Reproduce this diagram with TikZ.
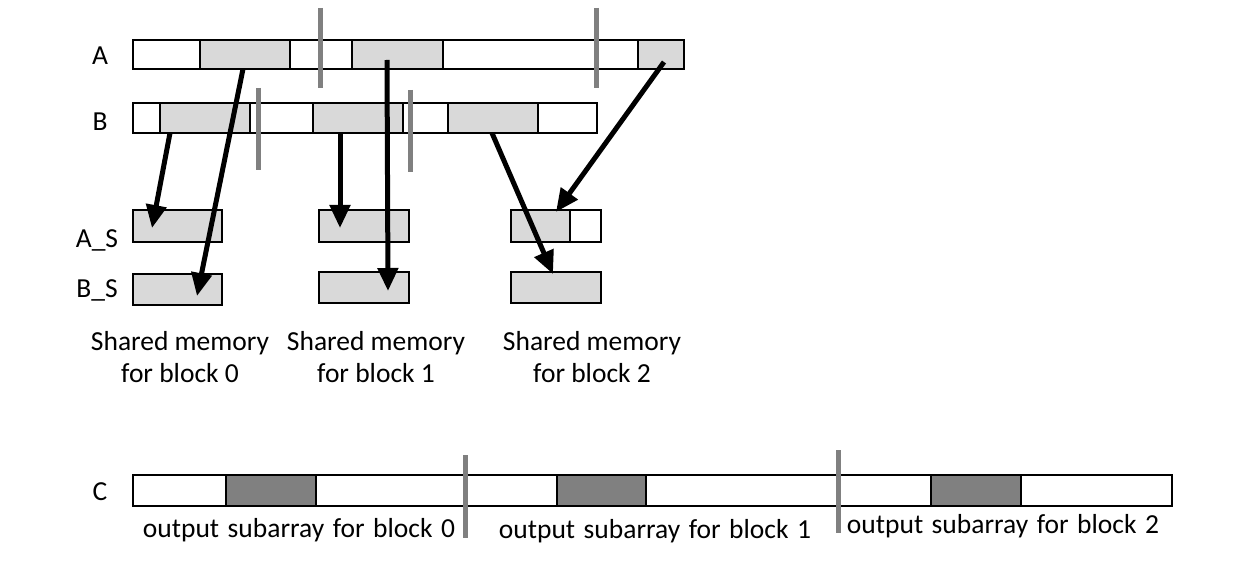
\documentclass[tikz,border=0pt]{standalone}
\usepackage{fontspec}
\setmainfont{Carlito}
\usetikzlibrary{arrows.meta}
\definecolor{lgray}{RGB}{217,217,217}
\definecolor{dgray}{RGB}{128,128,128}
\definecolor{sepgray}{RGB}{128,128,128}
\newcommand{\olblfont}{\fontsize{27.5}{32}\selectfont\spaceskip=8.5pt\relax}
\begin{document}
\begin{tikzpicture}[x=1pt,y=-1pt,
  cellbox/.style={draw=black,line width=2.8pt,inner sep=0,outer sep=0,anchor=north west,fill=white},
  lg/.style={cellbox,fill=lgray},
  dg/.style={cellbox,fill=dgray},
  sepline/.style={draw=sepgray,line width=5pt},
  mover/.style={draw=black,line width=5pt,-{Triangle[length=23pt,width=20pt]}},
  lbl/.style={font=\fontsize{27.5}{32}\selectfont,inner sep=0,align=center},
  olbl/.style={font=\olblfont,inner sep=0}]
\useasboundingbox[fill=white] (0,0) rectangle (1235,561);
% A row
\node[cellbox,minimum width=67pt,minimum height=29pt] (a0) at (133,40) {};
\node[lg,minimum width=90pt,minimum height=29pt] (a1) at (200,40) {};
\node[cellbox,minimum width=62pt,minimum height=29pt] (a2) at (290,40) {};
\node[lg,minimum width=91pt,minimum height=29pt] (a3) at (352,40) {};
\node[cellbox,minimum width=195pt,minimum height=29pt] (a4) at (443,40) {};
\node[lg,minimum width=46pt,minimum height=29pt] (a5) at (638,40) {};
% B row
\node[cellbox,minimum width=27pt,minimum height=30pt] (b0) at (133,103) {};
\node[lg,minimum width=90pt,minimum height=30pt] (b1) at (160,103) {};
\node[cellbox,minimum width=63pt,minimum height=30pt] (b2) at (250,103) {};
\node[lg,minimum width=90pt,minimum height=30pt] (b3) at (313,103) {};
\node[cellbox,minimum width=45pt,minimum height=30pt] (b4) at (403,103) {};
\node[lg,minimum width=90pt,minimum height=30pt] (b5) at (448,103) {};
\node[cellbox,minimum width=59pt,minimum height=30pt] (b6) at (538,103) {};
% shared memory
\node[lg,minimum width=89pt,minimum height=32pt] (as0) at (133,210) {};
\node[lg,minimum width=90pt,minimum height=32pt] (as1) at (319,210) {};
\node[lg,minimum width=59pt,minimum height=32pt] (as2) at (511,210) {};
\node[cellbox,minimum width=31pt,minimum height=32pt] (as3) at (570,210) {};
\node[lg,minimum width=89pt,minimum height=31pt] (bs0) at (133,274) {};
\node[lg,minimum width=90pt,minimum height=31pt] (bs1) at (319,272) {};
\node[lg,minimum width=90pt,minimum height=31pt] (bs2) at (511,272) {};
% C row
\node[cellbox,minimum width=93pt,minimum height=31pt] (c0) at (133,475) {};
\node[dg,minimum width=90pt,minimum height=31pt] (c1) at (226,475) {};
\node[cellbox,minimum width=241pt,minimum height=31pt] (c2) at (316,475) {};
\node[dg,minimum width=89pt,minimum height=31pt] (c3) at (557,475) {};
\node[cellbox,minimum width=285pt,minimum height=31pt] (c4) at (646,475) {};
\node[dg,minimum width=90pt,minimum height=31pt] (c5) at (931,475) {};
\node[cellbox,minimum width=151pt,minimum height=31pt] (c6) at (1021,475) {};
% partition lines
\draw[sepline] (320,8) -- (320,88);
\draw[sepline] (596,8) -- (596,88);
\draw[sepline] (258,88) -- (258,170);
\draw[sepline] (410,90) -- (410,172);
\draw[sepline] (465,455) -- (465,538);
\draw[sepline] (838,450) -- (838,533);
% row labels
\node[lbl] (la) at (100,56) {A};
\node[lbl] (lb) at (100,122) {B};
\node[lbl] (las) at (97,240) {A\_S};
\node[lbl] (lbs) at (97,290) {B\_S};
\node[lbl] (lc) at (100,492) {C};
% captions
\node[lbl] (t0) at (180,357) {Shared memory\\for block 0};
\node[lbl] (t1) at (376,357) {Shared memory\\for block 1};
\node[lbl] (t2) at (592,357) {Shared memory\\for block 2};
\node[olbl] (o0) at (299,530) {output subarray for block 0};
\node[olbl] (o1) at (655,531) {output subarray for block 1};
\node[olbl] (o2) at (1003,526) {output subarray for block 2};
% arrows
\coordinate (s1) at (243,69);  \coordinate (e1) at (197,296);
\coordinate (s2) at (170,133); \coordinate (e2) at (152,228);
\coordinate (s3) at (387,60);  \coordinate (e3) at (388,291);
\coordinate (s4) at (340,133); \coordinate (e4) at (340,228);
\coordinate (s5) at (492,133); \coordinate (e5) at (553,274);
\coordinate (s6) at (664,62);  \coordinate (e6) at (556,212);
\draw[mover] (s1) -- (e1);
\draw[mover] (s2) -- (e2);
\draw[mover] (s3) -- (e3);
\draw[mover] (s4) -- (e4);
\draw[mover] (s5) -- (e5);
\draw[mover] (s6) -- (e6);
\end{tikzpicture}
\end{document}
